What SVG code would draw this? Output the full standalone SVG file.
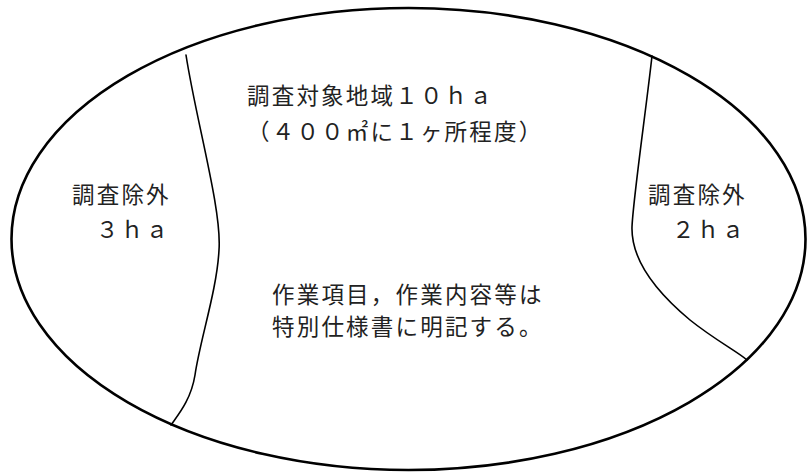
<svg xmlns="http://www.w3.org/2000/svg" width="807" height="473" viewBox="0 0 807 473">
<style>
.t{font-family:"Noto Sans CJK JP","Noto Sans CJK SC",sans-serif;font-size:22.5px;letter-spacing:2.2px;fill:#222;dominant-baseline:central}
.ln{fill:none;stroke:#000;stroke-width:1.6;stroke-linecap:round}
</style>
<rect width="807" height="473" fill="#fff"/>
<g id="outer"><ellipse cx="408.5" cy="239" rx="397" ry="231" fill="none" stroke="#000" stroke-width="2.6"/></g>
<g id="connectors">
<path class="ln" d="M186,55 C196,120 222,210 219,250 C217,290 200,340 195,375 C191,400 178,415 171,425"/>
<path class="ln" d="M652,56 C646,110 633,200 632,227 C631,262 660,295 690,320 C715,340 738,352 747,360"/>
</g>
<g id="main">
<text class="t" x="247" y="94">調査対象地域１０ｈａ</text>
<text class="t" x="247" y="130">（４００㎡に１ヶ所程度）</text>
</g>
<g id="left">
<text class="t" x="72" y="193">調査除外</text>
<text class="t" x="96" y="228">３ｈａ</text>
</g>
<g id="right">
<text class="t" x="648" y="193">調査除外</text>
<text class="t" x="672" y="228">２ｈａ</text>
</g>
<g id="note">
<text class="t" x="272" y="293">作業項目，作業内容等は</text>
<text class="t" x="272" y="325">特別仕様書に明記する。</text>
</g>
</svg>
